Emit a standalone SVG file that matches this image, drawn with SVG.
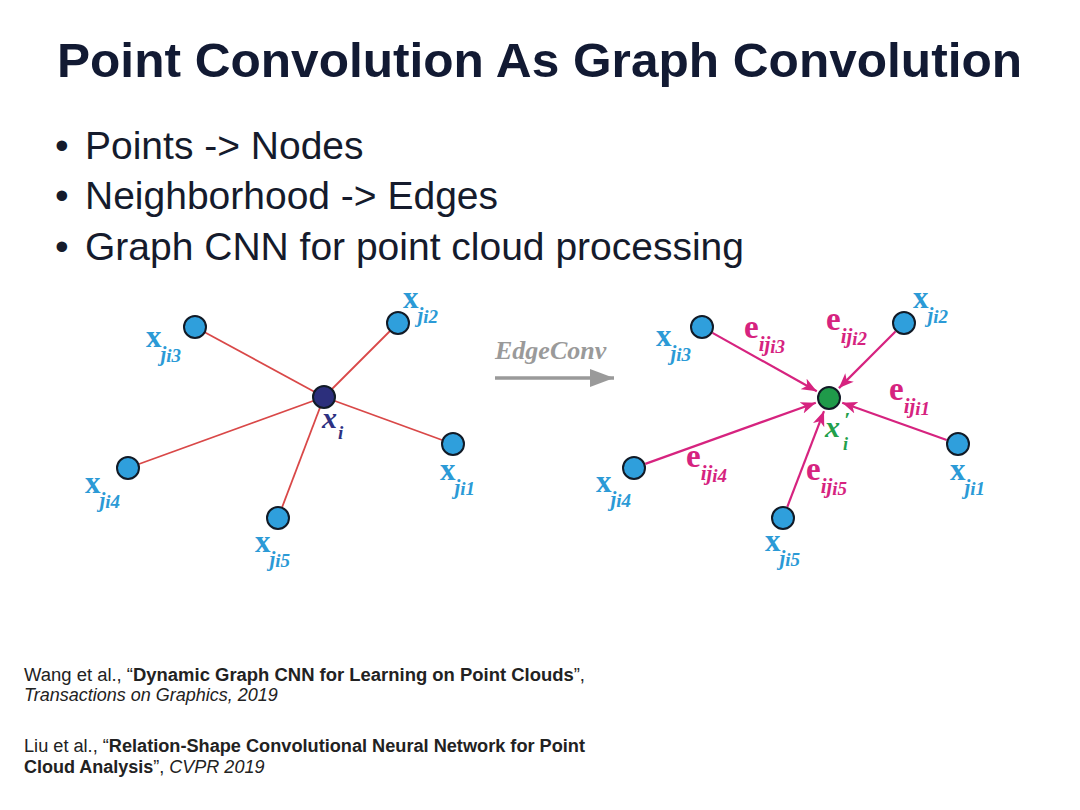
<svg xmlns="http://www.w3.org/2000/svg" width="1080" height="810" viewBox="0 0 1080 810">
<style>
.title{font-family:"Liberation Sans",Arial,sans-serif;font-weight:bold;font-size:48px;fill:#121a33}
.bul{font-family:"Liberation Sans",Arial,sans-serif;font-size:39px;fill:#151b2c}
.ref{font-family:"Liberation Sans",Arial,sans-serif;font-size:18px;fill:#222}
.b{font-weight:bold}
.it{font-style:italic}
.node{fill:#2f9fdc;stroke:#111a26;stroke-width:2}
.xl{font-family:"Liberation Serif","Times New Roman",serif;font-weight:bold;font-size:31px;fill:#2b9ad6}
.el{font-family:"Liberation Serif","Times New Roman",serif;font-weight:bold;font-size:33px;fill:#d6237f}
.s1{font-size:21px;font-style:italic}
.s2{font-size:19px;font-style:italic}
.red{stroke:#d94848;stroke-width:1.8;fill:none}
.mag{stroke:#d6237f;stroke-width:2.2;fill:none;marker-end:url(#ah)}
</style>
<defs>
<marker id="ah" markerUnits="userSpaceOnUse" markerWidth="16" markerHeight="12" refX="15" refY="6" orient="auto">
<path d="M0,0 L15,6 L0,12 L4,6 Z" fill="#d6237f"/>
</marker>
<marker id="gh" markerUnits="userSpaceOnUse" markerWidth="26" markerHeight="20" refX="24" refY="10" orient="auto">
<path d="M0,1 L24,10 L0,19 Z" fill="#9a9a9a"/>
</marker>
</defs>
<rect width="1080" height="810" fill="#fff"/>
<text class="title" x="57" y="77" textLength="965" lengthAdjust="spacingAndGlyphs">Point Convolution As Graph Convolution</text>
<g id="bullets">
<text class="bul" x="55" y="159">•</text><text class="bul" x="85" y="159">Points -&gt; Nodes</text>
<text class="bul" x="55" y="209">•</text><text class="bul" x="85" y="209">Neighborhood -&gt; Edges</text>
<text class="bul" x="55" y="260">•</text><text class="bul" x="85" y="260">Graph CNN for point cloud processing</text>
</g>
<g id="connectors">
<line class="red" x1="195" y1="327" x2="324" y2="397"/>
<line class="red" x1="398" y1="323" x2="324" y2="397"/>
<line class="red" x1="453" y1="444" x2="324" y2="397"/>
<line class="red" x1="128" y1="468" x2="324" y2="397"/>
<line class="red" x1="278" y1="518" x2="324" y2="397"/>
<line x1="495" y1="378" x2="614" y2="378" stroke="#9a9a9a" stroke-width="3.5" marker-end="url(#gh)"/>
<line class="mag" x1="712.5" y1="332.9" x2="816.8" y2="391.2"/>
<line class="mag" x1="895.5" y1="331.5" x2="838.9" y2="388.1"/>
<line class="mag" x1="946.7" y1="440" x2="842.2" y2="402.7"/>
<line class="mag" x1="645.3" y1="463.9" x2="815.8" y2="402.7"/>
<line class="mag" x1="787.3" y1="506.8" x2="824" y2="411.1"/>
</g>
<g id="left-center"><circle cx="324" cy="397" r="11" fill="#2c2f7c" stroke="#111a26" stroke-width="2"/>
<text x="322" y="428" font-family="Liberation Serif,serif" font-weight="bold" font-style="italic" font-size="30" fill="#2e3182">x<tspan font-size="19" dx="1" dy="11">i</tspan></text></g>
<g id="left-j3"><circle class="node" cx="195" cy="327" r="11"/><text class="xl" x="146" y="347">x<tspan class="s1" dx="-1" dy="14">j</tspan><tspan class="s2" dy="1">i3</tspan></text></g>
<g id="left-j2"><circle class="node" cx="398" cy="323" r="11"/><text class="xl" x="403" y="308">x<tspan class="s1" dx="-1" dy="14">j</tspan><tspan class="s2" dy="1">i2</tspan></text></g>
<g id="left-j1"><circle class="node" cx="453" cy="444" r="11"/><text class="xl" x="440" y="480">x<tspan class="s1" dx="-1" dy="14">j</tspan><tspan class="s2" dy="1">i1</tspan></text></g>
<g id="left-j4"><circle class="node" cx="128" cy="468" r="11"/><text class="xl" x="85" y="493">x<tspan class="s1" dx="-1" dy="14">j</tspan><tspan class="s2" dy="1">i4</tspan></text></g>
<g id="left-j5"><circle class="node" cx="278" cy="518" r="11"/><text class="xl" x="255" y="552">x<tspan class="s1" dx="-1" dy="14">j</tspan><tspan class="s2" dy="1">i5</tspan></text></g>
<g id="edgeconv"><text x="495" y="359" font-family="Liberation Serif,serif" font-weight="bold" font-style="italic" font-size="26" fill="#9a9a9a">EdgeConv</text></g>
<g id="right-center"><circle cx="829" cy="398" r="11" fill="#1f9a4a" stroke="#111a26" stroke-width="2"/>
<text font-family="Liberation Serif,serif" font-weight="bold" font-style="italic" font-size="30" fill="#22a04b"><tspan x="825" y="437">x</tspan><tspan x="844" y="427" font-size="22">′</tspan><tspan x="843" y="450" font-size="18">i</tspan></text></g>
<g id="right-j3"><circle class="node" cx="702" cy="327" r="11"/><text class="xl" x="656" y="346">x<tspan class="s1" dx="-1" dy="14">j</tspan><tspan class="s2" dy="1">i3</tspan></text></g>
<g id="right-j2"><circle class="node" cx="904" cy="323" r="11"/><text class="xl" x="913" y="308">x<tspan class="s1" dx="-1" dy="14">j</tspan><tspan class="s2" dy="1">i2</tspan></text></g>
<g id="right-j1"><circle class="node" cx="958" cy="444" r="11"/><text class="xl" x="950" y="480">x<tspan class="s1" dx="-1" dy="14">j</tspan><tspan class="s2" dy="1">i1</tspan></text></g>
<g id="right-j4"><circle class="node" cx="634" cy="468" r="11"/><text class="xl" x="596" y="492">x<tspan class="s1" dx="-1" dy="14">j</tspan><tspan class="s2" dy="1">i4</tspan></text></g>
<g id="right-j5"><circle class="node" cx="783" cy="518" r="11"/><text class="xl" x="765" y="551">x<tspan class="s1" dx="-1" dy="14">j</tspan><tspan class="s2" dy="1">i5</tspan></text></g>
<g id="edge-labels">
<text class="el" x="744" y="338">e<tspan class="s1" dy="13">ij</tspan><tspan class="s2" dy="2">i3</tspan></text>
<text class="el" x="826" y="330">e<tspan class="s1" dy="13">ij</tspan><tspan class="s2" dy="2">i2</tspan></text>
<text class="el" x="889" y="400">e<tspan class="s1" dy="13">ij</tspan><tspan class="s2" dy="2">i1</tspan></text>
<text class="el" x="686" y="467">e<tspan class="s1" dy="13">ij</tspan><tspan class="s2" dy="2">i4</tspan></text>
<text class="el" x="806" y="480">e<tspan class="s1" dy="13">ij</tspan><tspan class="s2" dy="2">i5</tspan></text>
</g>
<g id="references">
<text class="ref" x="24" y="681" textLength="561" lengthAdjust="spacingAndGlyphs">Wang et al., “<tspan class="b">Dynamic Graph CNN for Learning on Point Clouds</tspan>”,</text>
<text class="ref it" x="24" y="701">Transactions on Graphics, 2019</text>
<text class="ref" x="24" y="752" textLength="561" lengthAdjust="spacingAndGlyphs">Liu et al., “<tspan class="b">Relation-Shape Convolutional Neural Network for Point</tspan></text>
<text class="ref" x="24" y="773"><tspan class="b">Cloud Analysis</tspan>”, <tspan class="it">CVPR 2019</tspan></text>
</g>
</svg>
